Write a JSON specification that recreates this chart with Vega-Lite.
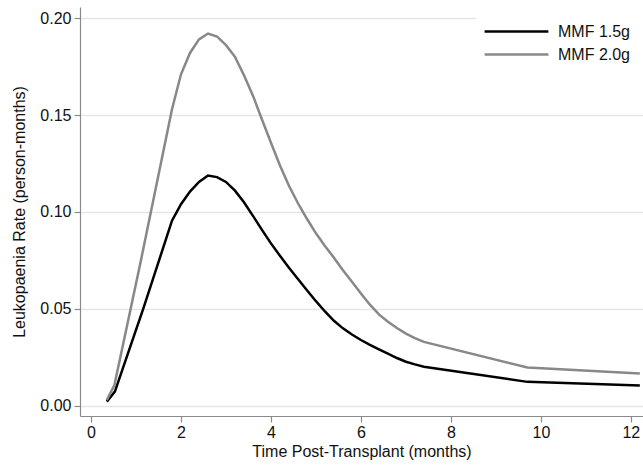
{
  "$schema": "https://vega.github.io/schema/vega-lite/v6.json",
  "width": 563,
  "height": 409,
  "autosize": {"type": "none"},
  "padding": {"left": 80, "top": 7, "right": 0, "bottom": 50},
  "background": "white",
  "config": {
    "view": {"stroke": null},
    "font": "Liberation Sans",
    "axis": {
      "domainColor": "#8a8a8a",
      "domainWidth": 1.2,
      "tickColor": "#8a8a8a",
      "tickWidth": 1.2,
      "tickSize": 6,
      "labelFontSize": 16,
      "labelColor": "#111",
      "titleFontSize": 16,
      "titleFontWeight": "normal",
      "titleColor": "#111",
      "gridColor": "#e6e6e6",
      "gridWidth": 1.5
    }
  },
  "data": {
    "values": [
      {"t": 0.35, "rate": 0.0022, "dose": "MMF 1.5g"},
      {"t": 0.53, "rate": 0.0074, "dose": "MMF 1.5g"},
      {"t": 1.16, "rate": 0.050, "dose": "MMF 1.5g"},
      {"t": 1.8, "rate": 0.0955, "dose": "MMF 1.5g"},
      {"t": 2.0, "rate": 0.104, "dose": "MMF 1.5g"},
      {"t": 2.2, "rate": 0.1105, "dose": "MMF 1.5g"},
      {"t": 2.4, "rate": 0.1155, "dose": "MMF 1.5g"},
      {"t": 2.6, "rate": 0.1188, "dose": "MMF 1.5g"},
      {"t": 2.8, "rate": 0.118, "dose": "MMF 1.5g"},
      {"t": 3.0, "rate": 0.1155, "dose": "MMF 1.5g"},
      {"t": 3.2, "rate": 0.111, "dose": "MMF 1.5g"},
      {"t": 3.4, "rate": 0.105, "dose": "MMF 1.5g"},
      {"t": 3.6, "rate": 0.098, "dose": "MMF 1.5g"},
      {"t": 3.8, "rate": 0.0908, "dose": "MMF 1.5g"},
      {"t": 4.0, "rate": 0.0838, "dose": "MMF 1.5g"},
      {"t": 4.2, "rate": 0.0774, "dose": "MMF 1.5g"},
      {"t": 4.4, "rate": 0.0713, "dose": "MMF 1.5g"},
      {"t": 4.6, "rate": 0.0654, "dose": "MMF 1.5g"},
      {"t": 4.8, "rate": 0.0596, "dose": "MMF 1.5g"},
      {"t": 5.0, "rate": 0.054, "dose": "MMF 1.5g"},
      {"t": 5.2, "rate": 0.0487, "dose": "MMF 1.5g"},
      {"t": 5.4, "rate": 0.0439, "dose": "MMF 1.5g"},
      {"t": 5.6, "rate": 0.040, "dose": "MMF 1.5g"},
      {"t": 5.8, "rate": 0.0368, "dose": "MMF 1.5g"},
      {"t": 6.0, "rate": 0.034, "dose": "MMF 1.5g"},
      {"t": 6.2, "rate": 0.0315, "dose": "MMF 1.5g"},
      {"t": 6.4, "rate": 0.0292, "dose": "MMF 1.5g"},
      {"t": 6.6, "rate": 0.027, "dose": "MMF 1.5g"},
      {"t": 6.8, "rate": 0.0247, "dose": "MMF 1.5g"},
      {"t": 7.0, "rate": 0.0228, "dose": "MMF 1.5g"},
      {"t": 7.2, "rate": 0.0214, "dose": "MMF 1.5g"},
      {"t": 7.4, "rate": 0.0202, "dose": "MMF 1.5g"},
      {"t": 9.7, "rate": 0.0124, "dose": "MMF 1.5g"},
      {"t": 12.2, "rate": 0.0105, "dose": "MMF 1.5g"},
      {"t": 0.35, "rate": 0.003, "dose": "MMF 2.0g"},
      {"t": 0.52, "rate": 0.0108, "dose": "MMF 2.0g"},
      {"t": 1.1, "rate": 0.074, "dose": "MMF 2.0g"},
      {"t": 1.8, "rate": 0.153, "dose": "MMF 2.0g"},
      {"t": 2.0, "rate": 0.171, "dose": "MMF 2.0g"},
      {"t": 2.2, "rate": 0.182, "dose": "MMF 2.0g"},
      {"t": 2.4, "rate": 0.189, "dose": "MMF 2.0g"},
      {"t": 2.6, "rate": 0.192, "dose": "MMF 2.0g"},
      {"t": 2.8, "rate": 0.1905, "dose": "MMF 2.0g"},
      {"t": 3.0, "rate": 0.186, "dose": "MMF 2.0g"},
      {"t": 3.2, "rate": 0.180, "dose": "MMF 2.0g"},
      {"t": 3.4, "rate": 0.1705, "dose": "MMF 2.0g"},
      {"t": 3.6, "rate": 0.160, "dose": "MMF 2.0g"},
      {"t": 3.8, "rate": 0.1477, "dose": "MMF 2.0g"},
      {"t": 4.0, "rate": 0.1357, "dose": "MMF 2.0g"},
      {"t": 4.2, "rate": 0.124, "dose": "MMF 2.0g"},
      {"t": 4.4, "rate": 0.1135, "dose": "MMF 2.0g"},
      {"t": 4.6, "rate": 0.1045, "dose": "MMF 2.0g"},
      {"t": 4.8, "rate": 0.0965, "dose": "MMF 2.0g"},
      {"t": 5.0, "rate": 0.089, "dose": "MMF 2.0g"},
      {"t": 5.2, "rate": 0.0825, "dose": "MMF 2.0g"},
      {"t": 5.4, "rate": 0.0764, "dose": "MMF 2.0g"},
      {"t": 5.6, "rate": 0.070, "dose": "MMF 2.0g"},
      {"t": 5.8, "rate": 0.064, "dose": "MMF 2.0g"},
      {"t": 6.0, "rate": 0.058, "dose": "MMF 2.0g"},
      {"t": 6.2, "rate": 0.0522, "dose": "MMF 2.0g"},
      {"t": 6.4, "rate": 0.0472, "dose": "MMF 2.0g"},
      {"t": 6.6, "rate": 0.0434, "dose": "MMF 2.0g"},
      {"t": 6.8, "rate": 0.0402, "dose": "MMF 2.0g"},
      {"t": 7.0, "rate": 0.0373, "dose": "MMF 2.0g"},
      {"t": 7.2, "rate": 0.035, "dose": "MMF 2.0g"},
      {"t": 7.4, "rate": 0.033, "dose": "MMF 2.0g"},
      {"t": 9.7, "rate": 0.0198, "dose": "MMF 2.0g"},
      {"t": 12.2, "rate": 0.0167, "dose": "MMF 2.0g"}
    ]
  },
  "mark": {"type": "line", "strokeWidth": 2.5, "clip": true},
  "encoding": {
    "x": {
      "field": "t",
      "type": "quantitative",
      "scale": {"domain": [-0.245, 12.27], "nice": false, "zero": false},
      "axis": {
        "values": [0, 2, 4, 6, 8, 10, 12],
        "grid": false,
        "labelPadding": 2,
        "titlePadding": 3,
        "title": "Time Post-Transplant (months)"
      }
    },
    "y": {
      "field": "rate",
      "type": "quantitative",
      "scale": {"domain": [-0.0052, 0.2057], "nice": false, "zero": false},
      "axis": {
        "values": [0, 0.05, 0.1, 0.15, 0.2],
        "format": ".2f",
        "grid": true,
        "labelPadding": 3,
        "titlePadding": 12,
        "title": "Leukopaenia Rate (person-months)"
      }
    },
    "color": {
      "field": "dose",
      "type": "nominal",
      "scale": {"domain": ["MMF 1.5g", "MMF 2.0g"], "range": ["#000000", "#888888"]},
      "legend": {
        "title": null,
        "orient": "none",
        "legendX": 396,
        "legendY": -16,
        "fillColor": "white",
        "padding": 28,
        "symbolType": "M-2.9,0H2.9",
        "symbolSize": 484,
        "symbolStrokeWidth": 2.5,
        "labelFontSize": 16,
        "labelColor": "#111",
        "labelOffset": 29,
        "rowPadding": 2
      }
    }
  }
}
